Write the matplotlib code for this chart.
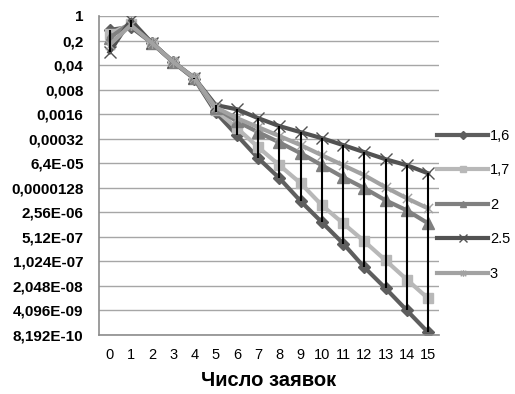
import matplotlib.pyplot as plt
import numpy as np
from matplotlib.path import Path

plt.rcParams["font.family"] = ["Liberation Sans", "DejaVu Sans"]

x_vals = list(range(16))
series_names = ["1,6", "1,7", "2", "2.5", "3"]

s16 = [0.40, 0.49, 0.17, 0.049, 0.016, 0.0018, 4.0e-4, 8.9e-5, 2.4e-5,
       5.3e-6, 1.33e-6, 3.3e-7, 6.9e-8, 1.74e-8, 4.1e-9, 9.7e-10]
s17 = [0.31, 0.59, 0.17, 0.049, 0.017, 0.0021, 6.4e-4, 1.83e-4, 5.6e-5,
       1.72e-5, 4.05e-6, 1.24e-6, 3.8e-7, 1.09e-7, 3.1e-8, 9.0e-9]
s20 = [0.24, 0.63, 0.17, 0.049, 0.017, 0.0024, 1.0e-3, 4.9e-4, 2.5e-4,
       1.23e-4, 5.6e-5, 2.55e-5, 1.24e-5, 5.6e-6, 2.9e-6, 1.24e-6]
s25 = [0.094, 0.77, 0.17, 0.049, 0.017, 0.0029, 2.2e-3, 1.23e-3, 7.3e-4,
       4.9e-4, 3.3e-4, 2.1e-4, 1.32e-4, 8.3e-5, 5.6e-5, 3.3e-5]
s30 = [0.15, 0.55, 0.17, 0.049, 0.017, 0.0025, 1.23e-3, 6.8e-4, 3.8e-4,
       2.1e-4, 1.08e-4, 5.6e-5, 2.9e-5, 1.32e-5, 6.4e-6, 3.3e-6]

y_ticklabels = ["1", "0,2", "0,04", "0,008", "0,0016", "0,00032", "6,4E-05",
                "0,0000128", "2,56E-06", "5,12E-07", "1,024E-07", "2,048E-08",
                "4,096E-09", "8,192E-10"]

star = Path([(-1, -1), (1, 1), (-1, 1), (1, -1), (0, -1.2), (0, 1.2)],
            [Path.MOVETO, Path.LINETO, Path.MOVETO, Path.LINETO,
             Path.MOVETO, Path.LINETO])

styles = [
    dict(color="#5e5e5e", marker="D", ms=6.5),
    dict(color="#b8b8b8", marker="s", ms=7.5),
    dict(color="#808080", marker="^", ms=8),
    dict(color="#525252", marker="x", ms=9, mew=1),
    dict(color="#a2a2a2", marker=star, ms=8, mew=1),
]

fig = plt.figure(figsize=(5.15, 3.94), dpi=100)
ax = fig.add_axes([0.192, 0.1497, 0.66, 0.8097])

all_series = [s16, s17, s20, s25, s30]
for name, vals, st in zip(series_names, all_series, styles):
    ax.plot(x_vals, vals, lw=3, label=name, color=st["color"],
            marker=st["marker"], ms=st["ms"], mew=st.get("mew", 1),
            mec=st["color"], mfc=st["color"], solid_joinstyle="round")

# high-low lines
arr = np.array(all_series)
ax.vlines(x_vals, arr.min(axis=0), arr.max(axis=0), color="black", lw=1.5, zorder=5)

ax.set_yscale("log")
yt = 5.0 ** -np.arange(len(y_ticklabels))
ax.set_yticks(yt)
ax.set_yticklabels(y_ticklabels, fontsize=11, fontweight="bold")
ax.minorticks_off()
ax.set_ylim(yt[-1], 1)
ax.set_xlim(-0.5, 15.5)
ax.set_xticks(x_vals)
ax.set_xticklabels([str(v) for v in x_vals], fontsize=10.5)
ax.tick_params(length=0, pad=9)
ax.tick_params(axis="y", pad=11)
ax.grid(axis="y", color="#a6a6a6", lw=1)
ax.set_axisbelow(True)
for s in ["top", "right"]:
    ax.spines[s].set_visible(False)
for s in ["left", "bottom"]:
    ax.spines[s].set_color("#8c8c8c")
    ax.spines[s].set_linewidth(1.2)

ax.set_xlabel("Число заявок", fontsize=14.5, fontweight="bold", labelpad=7)

handles, labels = ax.get_legend_handles_labels()
leg = fig.legend(handles, labels, loc="center left", bbox_to_anchor=(0.835, 0.48),
                 frameon=False, fontsize=10.5, handlelength=3.5, labelspacing=1.4,
                 handletextpad=0.1, markerscale=0.6, borderpad=0)

fig.savefig("out.png", dpi=100)
